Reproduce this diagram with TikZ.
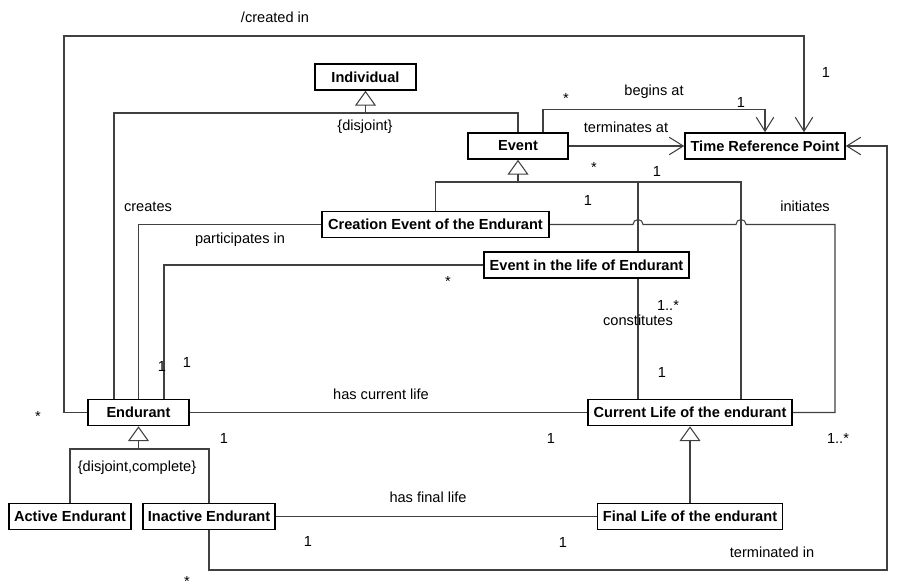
\documentclass[tikz,border=0pt]{standalone}
\usepackage{fontspec}
\setmainfont{Liberation Sans}
\usetikzlibrary{arrows.meta}

\newcommand{\umlfont}{\fontsize{8.3}{10}\selectfont}

\tikzset{
  cls/.style={draw=black, line width=0.9pt, font=\umlfont\bfseries, minimum height=0.52cm, inner sep=0pt},
  lnk/.style={line width=0.6pt, draw=black!75},
  gen/.style={lnk, -{Triangle[open, length=8.5pt, width=12pt]}},
  nav/.style={lnk, -{Straight Barb[length=8pt, width=10pt]}},
}

\begin{document}
\begin{tikzpicture}[x=0.02cm, y=-0.02cm, font=\umlfont]
    \useasboundingbox (0,0) rectangle (902,587);

    \node[cls, minimum width=2.02cm] (ind) at (365.5,77) {Individual};
    \node[cls, minimum width=2.0cm] (evt) at (518,146) {Event};
    \node[cls, minimum width=3.2cm] (trp) at (765,146) {Time Reference Point};
    \node[cls, minimum width=4.54cm] (crev) at (435.5,224.5) {Creation Event of the Endurant};
    \node[cls, minimum width=4.1cm] (evlife) at (586.5,265) {Event in the life of Endurant};
    \node[cls, minimum width=2.02cm] (end) at (138.5,412.5) {Endurant};
    \node[cls, minimum width=4.08cm] (cur) at (690,412.5) {Current Life of the endurant};
    \node[cls, minimum width=2.44cm] (act) at (70,516.5) {Active Endurant};
    \node[cls, minimum width=2.64cm] (inact) at (209,516.5) {Inactive Endurant};
    \node[cls, minimum width=3.7cm] (fin) at (690,516.5) {Final Life of the endurant};

    \coordinate (indbus) at (365.5,113);
    \coordinate (evbus) at (518,182);
    \coordinate (endbus) at (138.5,449);

    % generalisations
    \draw[gen] (indbus) -- (ind.south);
    \draw[lnk] ([xshift=-0.49cm]end.north) |- (indbus) -| (evt.north);
    \draw[gen] (evbus) -- (evt.south);
    \draw[lnk] (crev.north) |- (evbus) -| ([xshift=1.03cm]evlife.north);
    \draw[lnk] (evbus) -| ([xshift=1.02cm]cur.north);
    \draw[gen] (endbus) -- (end.south);
    \draw[lnk] (act.north) |- (endbus) -| (inact.north);
    \draw[gen] (fin.north) -- (cur.south);

    % associations
    \draw[nav] (end.west) -| (64,36) -| ([xshift=0.78cm]trp.north);
    \draw[nav] ([xshift=0.5cm]evt.north) |- ([yshift=0.46cm]trp.north) -- (trp.north);
    \draw[nav] (evt.east) -- (trp.west);
    \draw[nav] (inact.south) |- (887,570) |- (trp.east);
    \draw[lnk] (crev.west) -| (end.north);
    \draw[lnk] (evlife.west) -| ([xshift=0.51cm]end.north);
    \draw[lnk] ([xshift=1.03cm]evlife.south) -- ([xshift=1.03cm]evlife.south |- cur.north);
    \draw[lnk] (crev.east) -- (633,224.5) arc (180:0:0.1cm) -- (736,224.5) arc (180:0:0.1cm)
        -- (835,224.5) |- (cur.east);
    \draw[lnk] (end.east) -- (cur.west);
    \draw[lnk] (inact.east) -- (fin.west);

    \node (la) at (275,17) {/created in};
    \node (lb) at (826,72) {1};
    \node (lc) at (38,416) {*};
    \node (ld) at (365,127) {\{disjoint\}};
    \node (le) at (654,92) {begins at};
    \node (lf) at (566,98) {*};
    \node (lg) at (741,102) {1};
    \node (lh) at (626,127) {terminates at};
    \node (li) at (594,167) {*};
    \node (lj) at (657,171) {1};
    \node (lk) at (588,200) {1};
    \node (ll) at (148,207) {creates};
    \node (lm) at (805,206) {initiates};
    \node (ln) at (240,240) {participates in};
    \node (lo) at (448,281) {*};
    \node (lp) at (668,305) {1..*};
    \node (lq) at (638,320) {constitutes};
    \node (lr) at (662,372) {1};
    \node (ls) at (162,366) {1};
    \node (lt) at (187,362) {1};
    \node (lu) at (381,394) {has current life};
    \node (lv) at (224,438) {1};
    \node (lw) at (551,438) {1};
    \node (lx) at (838,438) {1..*};
    \node (ly) at (137,468) {\{disjoint,complete\}};
    \node (lz) at (428,497) {has final life};
    \node (ma) at (308,541) {1};
    \node (mb) at (563,542) {1};
    \node (mc) at (772,552) {terminated in};
    \node[inner sep=1pt] (md) at (187,581) {*};

\end{tikzpicture}
\end{document}
